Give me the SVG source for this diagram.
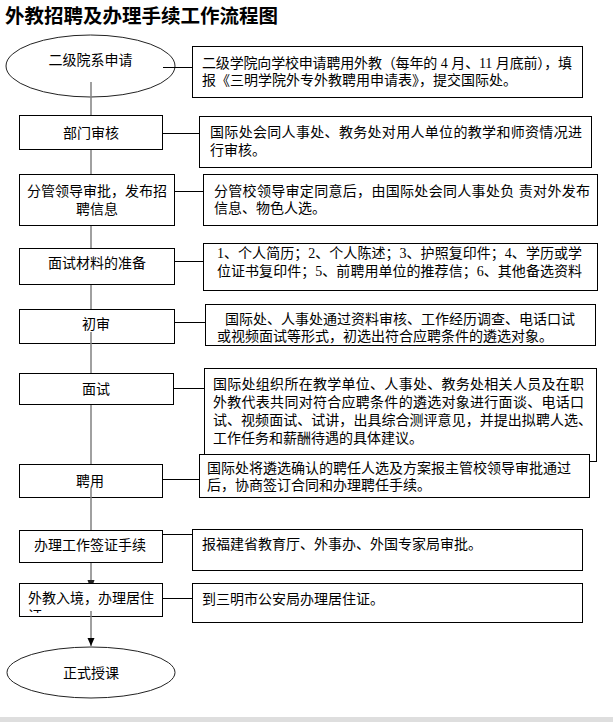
<svg xmlns="http://www.w3.org/2000/svg" width="613" height="722" viewBox="0 0 613 722">
<style>
.t{font-family:"Liberation Sans","Noto Sans CJK SC",sans-serif;font-size:14px;fill:#000;dominant-baseline:central}
.title{font-family:"Noto Sans CJK SC","Liberation Sans",sans-serif;font-size:19.5px;font-weight:bold;fill:#000}
.m{text-anchor:middle}
.d{font-family:"Liberation Serif",serif}
.box{fill:#fff;stroke:#000;stroke-width:1}
.ell{fill:#fff;stroke:#222;stroke-width:1}
.h{stroke:#000;stroke-width:1;fill:none}
.v{stroke:#808080;stroke-width:1.5;fill:none}
</style>
<defs>
<marker id="ah" markerWidth="8" markerHeight="8" refX="8" refY="4" orient="auto" markerUnits="userSpaceOnUse"><path d="M0,0.5 L8,4 L0,7.5 z" fill="#000"/></marker>
<clipPath id="clipW"><rect x="19" y="583" width="144" height="30"/></clipPath>
</defs>
<rect width="613" height="722" fill="#fff"/>
<rect x="0" y="717" width="613" height="5" fill="#dedede"/>
<text class="title" x="5" y="22.5">外教招聘及办理手续工作流程图</text>

<g id="n1"><ellipse class="ell" cx="90.5" cy="66" rx="84.5" ry="31"/><text class="t m" x="90.5" y="60">二级院系申请</text></g>
<g id="d1"><rect class="box" x="192.5" y="46.5" width="390" height="51"/>
<text class="t" x="202" y="63" textLength="370" lengthAdjust="spacing">二级学院向学校申请聘用外教（每年的 <tspan class="d">4</tspan> 月、<tspan class="d">11</tspan> 月底前），填</text>
<text class="t" x="202" y="80">报《三明学院外专外教聘用申请表》，提交国际处。</text></g>

<g id="n2"><rect class="box" x="19.5" y="115.5" width="143" height="34"/><text class="t m" x="91" y="133">部门审核</text></g>
<g id="d2"><rect class="box" x="199.5" y="116.5" width="392" height="51"/>
<text class="t" x="210" y="132" textLength="372" lengthAdjust="spacing">国际处会同人事处、教务处对用人单位的教学和师资情况进</text>
<text class="t" x="210" y="150">行审核。</text></g>

<g id="n3"><rect class="box" x="19.5" y="174.5" width="155" height="51"/><text class="t m" x="97" y="191">分管领导审批，发布招</text><text class="t m" x="97" y="209">聘信息</text></g>
<g id="d3"><rect class="box" x="203.5" y="174.5" width="394" height="51"/>
<text class="t" x="214" y="191" textLength="376" lengthAdjust="spacing">分管校领导审定同意后，由国际处会同人事处负 责对外发布</text>
<text class="t" x="214" y="208">信息、物色人选。</text></g>

<g id="n4"><rect class="box" x="19.5" y="248.5" width="155" height="36"/><text class="t m" x="97" y="263">面试材料的准备</text></g>
<g id="d4"><rect class="box" x="203.5" y="243.5" width="394" height="47"/>
<text class="t" x="217" y="253" textLength="365" lengthAdjust="spacing"><tspan class="d">1</tspan>、个人简历；<tspan class="d">2</tspan>、个人陈述；<tspan class="d">3</tspan>、护照复印件；<tspan class="d">4</tspan>、学历或学</text>
<text class="t" x="217" y="271" textLength="365" lengthAdjust="spacing">位证书复印件；<tspan class="d">5</tspan>、前聘用单位的推荐信；<tspan class="d">6</tspan>、其他备选资料</text></g>

<g id="n5"><rect class="box" x="19.5" y="309.5" width="155" height="34"/><text class="t m" x="96" y="324">初审</text></g>
<g id="d5"><rect class="box" x="205.5" y="304.5" width="390" height="41"/>
<text class="t" x="225" y="319">国际处、人事处通过资料审核、工作经历调查、电话口试</text>
<text class="t" x="217" y="336">或视频面试等形式，初选出符合应聘条件的遴选对象。</text></g>

<g id="n6"><rect class="box" x="19.5" y="373.5" width="154" height="31"/><text class="t m" x="96" y="389">面试</text></g>
<g id="d6"><rect class="box" x="204.5" y="368.5" width="392" height="93"/>
<text class="t" x="213" y="384" textLength="371" lengthAdjust="spacing">国际处组织所在教学单位、人事处、教务处相关人员及在职</text>
<text class="t" x="213" y="402" textLength="371" lengthAdjust="spacing">外教代表共同对符合应聘条件的遴选对象进行面谈、电话口</text>
<text class="t" x="213" y="420" textLength="379" lengthAdjust="spacing">试、视频面试、试讲，出具综合测评意见，并提出拟聘人选、</text>
<text class="t" x="213" y="438">工作任务和薪酬待遇的具体建议。</text></g>

<g id="n7"><rect class="box" x="19.5" y="464.5" width="143" height="33"/><text class="t m" x="90" y="481">聘用</text></g>
<g id="d7"><rect class="box" x="199.5" y="454.5" width="390" height="43"/>
<text class="t" x="207" y="468">国际处将遴选确认的聘任人选及方案报主管校领导审批通过</text>
<text class="t" x="207" y="485">后，协商签订合同和办理聘任手续。</text></g>

<g id="n8"><rect class="box" x="19.5" y="530.5" width="143" height="32"/><text class="t m" x="90" y="545">办理工作签证手续</text></g>
<g id="d8"><rect class="box" x="192.5" y="529.5" width="390" height="41"/>
<text class="t" x="202" y="544">报福建省教育厅、外事办、外国专家局审批。</text></g>

<g id="n9"><rect class="box" x="19.5" y="583.5" width="143" height="33"/>
<g clip-path="url(#clipW)"><text class="t" x="28" y="598">外教入境，办理居住</text><text class="t" x="28" y="616">证</text></g></g>
<g id="d9"><rect class="box" x="192.5" y="583.5" width="390" height="39"/>
<text class="t" x="202" y="599">到三明市公安局办理居住证。</text></g>

<g id="n10"><ellipse class="ell" cx="91" cy="672.5" rx="84" ry="25.5"/><text class="t m" x="91" y="673">正式授课</text></g>

<g id="connectors">
<line class="h" x1="163" y1="67.5" x2="192" y2="67.5"/>
<line class="h" x1="163" y1="133.5" x2="199" y2="133.5"/>
<line class="h" x1="175" y1="191.5" x2="203" y2="191.5"/>
<line class="h" x1="175" y1="261.5" x2="203" y2="261.5"/>
<line class="h" x1="175" y1="322.5" x2="205" y2="322.5"/>
<line class="h" x1="174" y1="388.5" x2="204" y2="388.5"/>
<line class="h" x1="163" y1="479.5" x2="199" y2="479.5"/>
<line class="h" x1="163" y1="534.5" x2="192" y2="534.5"/>
<line class="h" x1="163" y1="598.5" x2="192" y2="598.5"/>
<line class="v" x1="91" y1="82" x2="91" y2="115"/>
<line class="v" x1="91" y1="150" x2="91" y2="174"/>
<line class="v" x1="91" y1="226" x2="91" y2="248"/>
<line class="v" x1="91" y1="285" x2="91" y2="309"/>
<line class="v" x1="91" y1="332" x2="91" y2="373"/>
<line class="v" x1="91" y1="405" x2="91" y2="464"/>
<line class="v" x1="91" y1="488" x2="91" y2="530"/>
<line class="v" x1="91" y1="563" x2="91" y2="581"/>
<polygon points="87.5,580 94.5,580 93.5,583 88.5,583" fill="#222"/>
<line class="v" x1="91" y1="611" x2="91" y2="646" marker-end="url(#ah)"/>
</g>
</svg>
